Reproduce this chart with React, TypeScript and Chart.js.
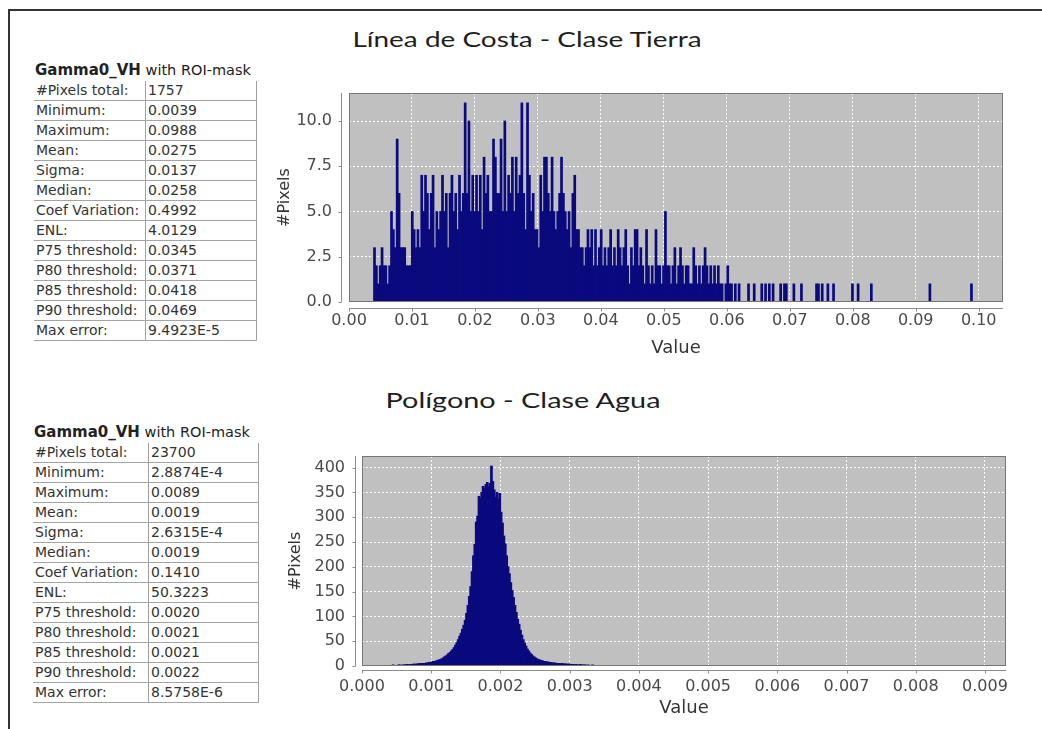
import React, { useEffect, useRef } from "react";
import { Chart, registerables } from "chart.js";
Chart.register(...registerables);

// ---------- DATA ----------
const statLabels = [
  "#Pixels total:", "Minimum:", "Maximum:", "Mean:", "Sigma:", "Median:",
  "Coef Variation:", "ENL:", "P75 threshold:", "P80 threshold:", "P85 threshold:",
  "P90 threshold:", "Max error:",
];
const tierraStats = [
  "1757", "0.0039", "0.0988", "0.0275", "0.0137", "0.0258", "0.4992", "4.0129",
  "0.0345", "0.0371", "0.0418", "0.0469", "9.4923E-5",
];
const aguaStats = [
  "23700", "2.8874E-4", "0.0089", "0.0019", "2.6315E-4", "0.0019", "0.1410",
  "50.3223", "0.0020", "0.0021", "0.0021", "0.0022", "8.5758E-6",
];

const tierraTitle = "Línea de Costa - Clase Tierra";
const aguaTitle = "Polígono - Clase Agua";

// Histogram 1 (Tierra): bins of 0.0003 starting at 0.0039
const tierraBinStart = 0.0039;
const tierraBinWidth = 0.0003;
const tierraCountsA = [
  3, 2, 1, 2, 3, 2, 2, 1, 2, 5,
  4, 3, 9, 6, 3, 3, 3, 2, 2, 2,
  5, 4, 3, 4, 3, 7, 5, 7, 6, 4,
  6, 7, 3, 5, 4, 5, 7, 5, 6, 3,
  6, 7, 5, 6, 4, 7, 5, 6, 11, 6,
  10, 5, 7, 5, 7, 5, 7, 4, 8, 6,
  7, 5, 5, 9, 8, 6, 6, 9, 5, 10,
  5, 7, 6, 8, 5, 8, 6, 7, 11, 6,
  4, 11, 7, 5, 6, 4, 4, 3, 7, 5,
  8, 8, 6, 5, 8, 5, 4, 5, 6, 8,
];
const tierraCountsB = [
  6, 5, 4, 5, 3, 6, 7, 4, 4, 3,
  3, 2, 3, 4, 3, 4, 2, 4, 2, 3,
  4, 2, 3, 2, 3, 4, 2, 3, 2, 4,
  3, 2, 3, 4, 2, 1, 3, 2, 4, 4,
  2, 3, 2, 1, 4, 2, 1, 2, 1, 4,
  2, 2, 1, 2, 5, 2, 2, 1, 2, 3,
  1, 2, 3, 2, 1, 2, 2, 1, 1, 3,
  2, 1, 2, 1, 2, 3, 2, 1, 2, 1,
  2, 1, 2, 1, 1, 0, 1, 2, 1, 1,
  0, 1, 0, 1, 0, 0, 0, 0, 1, 0,
];
const tierraCountsC = [
  0, 1, 0, 0, 0, 1, 0, 1, 0, 1,
  0, 1, 0, 0, 0, 1, 0, 1, 1, 0,
  0, 0, 1, 0, 0, 0, 1, 0, 0, 0,
  0, 0, 0, 0, 1, 1, 0, 1, 0, 0,
  1, 0, 0, 1, 0, 0, 0, 0, 0, 0,
  0, 0, 0, 1, 0, 0, 1, 0, 0, 0,
  0, 0, 0, 1, 0, 0, 0, 0, 0, 0,
  0, 0, 0, 0, 0, 0, 0, 0, 0, 0,
  0, 0, 0, 0, 0, 0, 0, 0, 0, 0,
  0, 0, 0, 0, 1, 0, 0, 0, 0, 0,
  0, 0, 0, 0, 0, 0, 0, 0, 0, 0,
  0, 0, 0, 0, 0, 0, 1,
];
const tierraXTicks = [0.0, 0.01, 0.02, 0.03, 0.04, 0.05, 0.06, 0.07, 0.08, 0.09, 0.1];
const tierraYTicks = [0, 2.5, 5, 7.5, 10];

// Histogram 2 (Agua): bins of 0.00002 starting at 0.0003
const aguaBinStart = 0.0003;
const aguaBinWidth = 0.00002;
const aguaCountsA = [
  1, 0, 1, 1, 0, 1, 1, 2, 1, 1,
  1, 2, 2, 1, 2, 2, 2, 3, 2, 3,
  3, 3, 4, 3, 4, 4, 5, 4, 5, 5,
  5, 6, 6, 7, 7, 8, 9, 9, 10, 11,
  12, 13, 14, 16, 18, 20, 22, 25, 27, 30,
  33, 37, 42, 47, 53, 60, 66, 74, 82, 92,
];
const aguaCountsB = [
  106, 122, 140, 160, 190, 222, 245, 290, 302, 342,
  338, 350, 362, 358, 366, 370, 362, 368, 403, 372,
  355, 340, 350, 336, 348, 310, 288, 262, 246, 222,
  200, 186, 168, 152, 138, 122, 108, 94, 84, 72,
  62, 53, 46, 40, 34, 30, 26, 23, 20, 18,
];
const aguaCountsC = [
  16, 14, 13, 12, 11, 10, 9, 9, 8, 8,
  7, 7, 6, 6, 6, 5, 5, 5, 4, 5,
  4, 4, 4, 3, 4, 3, 3, 3, 2, 3,
  2, 2, 3, 2, 2, 2, 2, 1, 2, 1,
  1, 2, 1, 1, 1, 1, 1, 0, 1, 1,
  0, 1, 0, 1, 0, 1, 0, 0, 1, 0,
  0, 0, 1, 0, 0,
];
const aguaXTicks = [0.0, 0.001, 0.002, 0.003, 0.004, 0.005, 0.006, 0.007, 0.008, 0.009];
const aguaYTicks = [0, 50, 100, 150, 200, 250, 300, 350, 400];

// ---------- STYLE ----------
const BAR_COLOR = "#0a0a7e";
const PLOT_BG = "#c0c0c0";
const TICK_COLOR = "#4a4a4a";
const AXIS_TITLE_COLOR = "#353535";
const FONT = "DejaVu Sans";

const jfreeFrame = {
  id: "jfreeFrame",
  beforeDraw(chart: any) {
    const { ctx, chartArea: a } = chart;
    ctx.save();
    ctx.fillStyle = PLOT_BG;
    ctx.fillRect(a.left, a.top, a.right - a.left, a.bottom - a.top);
    ctx.restore();
  },
  afterDraw(chart: any, _args: any, opts: any) {
    const { ctx, chartArea: a, scales } = chart;
    ctx.save();
    ctx.lineWidth = 1;
    ctx.strokeStyle = "#767676";
    ctx.strokeRect(
      Math.round(a.left) + 0.5,
      Math.round(a.top) + 0.5,
      Math.round(a.right - a.left) - 1,
      Math.round(a.bottom - a.top) - 1
    );
    ctx.strokeStyle = "#8c8c8c";
    ctx.beginPath();
    const ax = Math.round(a.left - opts.gapY) + 0.5;
    ctx.moveTo(ax, a.top);
    ctx.lineTo(ax, a.bottom);
    for (const t of scales.y.ticks) {
      const py = Math.round(scales.y.getPixelForValue(t.value)) + 0.5;
      ctx.moveTo(ax - 3, py);
      ctx.lineTo(ax, py);
    }
    const ay = Math.round(a.bottom + opts.gapX) + 0.5;
    ctx.moveTo(a.left, ay);
    ctx.lineTo(a.right, ay);
    for (const t of scales.x.ticks) {
      const px = Math.round(scales.x.getPixelForValue(t.value)) + 0.5;
      ctx.moveTo(px, ay);
      ctx.lineTo(px, ay + 3);
    }
    ctx.stroke();
    ctx.restore();
  },
};

type HistProps = {
  left: number; top: number; width: number; height: number;
  padding: { top: number; right: number; left: number; bottom: number };
  yWidth: number; xHeight: number;
  binStart: number; binWidth: number; counts: number[];
  xMax: number; yMax: number; xTicks: number[]; yTicks: number[];
  xDec: number; yDec: number;
  gapX: number; gapY: number; inflate: number; barPct: number;
  xLabelPad: number; yLabelPad: number; xTitlePad: number; yTitlePad: number;
};

function Histogram(p: HistProps) {
  const ref = useRef<HTMLCanvasElement>(null);
  useEffect(() => {
    const data = p.counts.map((c, i) => ({ x: p.binStart + p.binWidth * (i + 0.5), y: c }));
    const chart = new Chart(ref.current as HTMLCanvasElement, {
      type: "bar",
      data: {
        datasets: [
          {
            data: data as any,
            backgroundColor: BAR_COLOR,
            borderWidth: 0,
            barPercentage: p.barPct,
            categoryPercentage: 1,
            inflateAmount: p.inflate,
          } as any,
        ],
      },
      options: {
        animation: false,
        responsive: false,
        maintainAspectRatio: false,
        layout: { padding: p.padding },
        plugins: {
          legend: { display: false },
          tooltip: { enabled: false },
          jfreeFrame: { gapX: p.gapX, gapY: p.gapY },
        } as any,
        scales: {
          x: {
            type: "linear",
            min: 0,
            max: p.xMax,
            offset: false,
            afterFit: (s: any) => {
              s.height = p.xHeight;
              s.paddingLeft = 0; s.paddingRight = 0; s.paddingTop = 0; s.paddingBottom = 0;
            },
            afterBuildTicks: (s: any) => { s.ticks = p.xTicks.map((v) => ({ value: v })); },
            ticks: {
              autoSkip: false,
              maxRotation: 0,
              padding: p.xLabelPad,
              color: TICK_COLOR,
              font: { family: FONT, size: 16 },
              callback: (v: any) => Number(v).toFixed(p.xDec),
            },
            grid: { color: "rgba(255,255,255,0.95)", lineWidth: 1, drawTicks: false, offset: false },
            border: { display: false, dash: [2, 2] },
            title: {
              display: true,
              text: "Value",
              color: AXIS_TITLE_COLOR,
              font: { family: FONT, size: 18 },
              padding: { top: 0, bottom: p.xTitlePad },
            },
          } as any,
          y: {
            type: "linear",
            min: 0,
            max: p.yMax,
            afterFit: (s: any) => {
              s.width = p.yWidth;
              s.paddingLeft = 0; s.paddingRight = 0; s.paddingTop = 0; s.paddingBottom = 0;
            },
            afterBuildTicks: (s: any) => { s.ticks = p.yTicks.map((v) => ({ value: v })); },
            ticks: {
              padding: p.yLabelPad,
              color: TICK_COLOR,
              font: { family: FONT, size: 16 },
              callback: (v: any) => Number(v).toFixed(p.yDec),
            },
            grid: { color: "rgba(255,255,255,0.95)", lineWidth: 1, drawTicks: false },
            border: { display: false, dash: [2, 2] },
            title: {
              display: true,
              text: "#Pixels",
              color: AXIS_TITLE_COLOR,
              font: { family: FONT, size: 16 },
              padding: { top: p.yTitlePad, bottom: 0 },
            },
          } as any,
        },
      },
      plugins: [jfreeFrame as any],
    });
    return () => chart.destroy();
  }, []);
  return (
    <canvas
      ref={ref}
      width={p.width}
      height={p.height}
      style={{ position: "absolute", left: p.left, top: p.top, width: p.width, height: p.height }}
    />
  );
}

function StatsTable({ left, top, headerTop, w1, w2, values }: { left: number; top: number; headerTop: number; w1: number; w2: number; values: string[] }) {
  return (
    <>
      <div
        style={{
          position: "absolute", left: left + 1, top: headerTop, whiteSpace: "nowrap",
          fontFamily: FONT, fontSize: 14.5, color: "#222", lineHeight: "16px",
        }}
      >
        <span style={{ fontWeight: "bold", fontSize: 15 }}>Gamma0_VH</span> with ROI-mask
      </div>
      <div style={{ position: "absolute", left, top }}>
        {statLabels.map((lab, i) => (
          <div
            key={i}
            style={{
              display: "flex", height: 20, boxSizing: "border-box",
              borderBottom: "1px solid #a4a4a4", fontFamily: FONT, fontSize: 14,
              color: "#333", lineHeight: "19px", whiteSpace: "nowrap",
            }}
          >
            <div style={{ width: w1, paddingLeft: 2, boxSizing: "border-box" }}>{lab}</div>
            <div
              style={{
                width: w2, paddingLeft: 2, boxSizing: "border-box",
                borderLeft: "1px solid #a0a0a0", borderRight: "1px solid #a0a0a0",
              }}
            >
              {values[i]}
            </div>
          </div>
        ))}
      </div>
    </>
  );
}

function ChartTitle({ text, cx, top, sx }: { text: string; cx: number; top: number; sx: number }) {
  return (
    <div
      style={{
        position: "absolute", left: cx, top, transform: `translateX(-50%) scaleX(${sx})`,
        fontFamily: "Lato", fontSize: 22, lineHeight: "30px", color: "#1e1e1e", whiteSpace: "nowrap",
      }}
    >
      {text}
    </div>
  );
}

export default function App() {
  const tierraCounts = [...tierraCountsA, ...tierraCountsB, ...tierraCountsC];
  const aguaCounts = [...aguaCountsA, ...aguaCountsB, ...aguaCountsC];
  return (
    <div
      style={{
        position: "fixed", left: 0, top: 0, width: 1042, height: 729,
        background: "#fff", overflow: "hidden",
      }}
    >
      <div
        style={{
          position: "absolute", left: 8, top: 9, width: 1040, height: 730,
          borderTop: "2px solid #333", borderLeft: "2px solid #333",
        }}
      />
      <ChartTitle text={tierraTitle} cx={527} top={24} sx={1.27} />
      <ChartTitle text={aguaTitle} cx={523} top={385} sx={1.31} />

      <StatsTable left={34} top={81} headerTop={62} w1={111} w2={112} values={tierraStats} />
      <StatsTable left={33} top={443} headerTop={424} w1={115} w2={111} values={aguaStats} />

      <Histogram
        left={260} top={80} width={760} height={280}
        padding={{ top: 13, right: 17, left: 0, bottom: 0 }}
        yWidth={89} xHeight={58}
        binStart={tierraBinStart} binWidth={tierraBinWidth} counts={tierraCounts}
        xMax={0.10386} yMax={11.55} xTicks={tierraXTicks} yTicks={tierraYTicks}
        xDec={2} yDec={1}
        gapX={6} gapY={8} inflate={0.4} barPct={1}
        xLabelPad={9} yLabelPad={17} xTitlePad={1} yTitlePad={15}
      />
      <Histogram
        left={260} top={440} width={760} height={280}
        padding={{ top: 16, right: 14, left: 0, bottom: 0 }}
        yWidth={102} xHeight={54}
        binStart={aguaBinStart} binWidth={aguaBinWidth} counts={aguaCounts}
        xMax={0.009304} yMax={423.5} xTicks={aguaXTicks} yTicks={aguaYTicks}
        xDec={3} yDec={0}
        gapX={4} gapY={7} inflate={0.5} barPct={1.25}
        xLabelPad={11} yLabelPad={17} xTitlePad={1} yTitlePad={26}
      />
    </div>
  );
}
